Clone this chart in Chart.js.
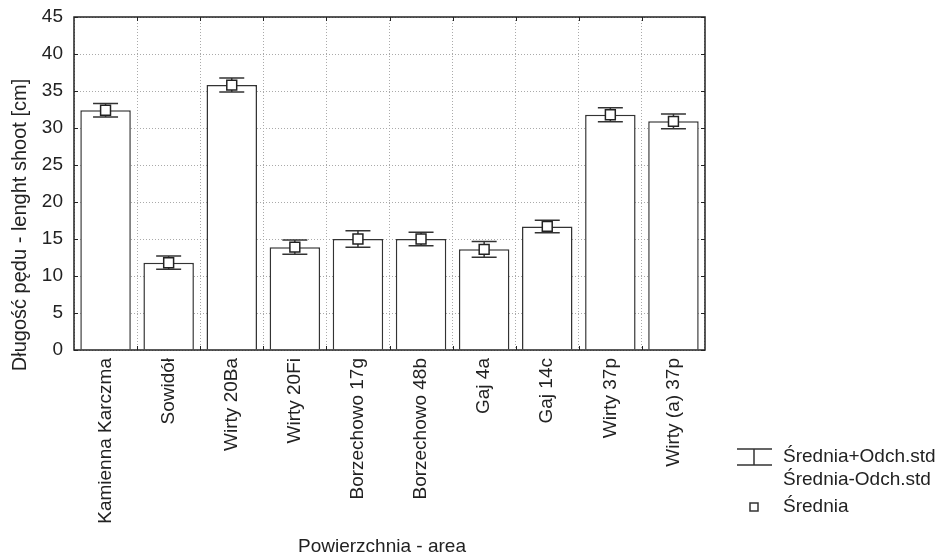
<!DOCTYPE html>
<html>
<head>
<meta charset="utf-8">
<script src="https://cdn.jsdelivr.net/npm/chart.js@4.4.1/dist/chart.umd.min.js"></script>
<style>
  html, body { margin: 0; padding: 0; background: #fff; }
  #wrap { width: 941px; height: 557px; position: relative; }
</style>
</head>
<body>
<div id="wrap"><canvas id="bar-chart"></canvas></div>
<script>
const categories = ['Kamienna Karczma', 'Sowidół', 'Wirty 20Ba', 'Wirty 20Fi', 'Borzechowo 17g',
  'Borzechowo 48b', 'Gaj 4a', 'Gaj 14c', 'Wirty 37p', 'Wirty (a) 37p'];
const means = [32.4, 11.8, 35.8, 13.9, 15.0, 15.0, 13.6, 16.7, 31.8, 30.9];
const stdDev = [0.9, 0.9, 0.95, 0.95, 1.1, 0.9, 1.05, 0.85, 0.95, 1.0];
const yTicks = [0, 5, 10, 15, 20, 25, 30, 35, 40, 45];

const ink = '#222';
const font = 'Liberation Sans, Arial, sans-serif';

// error bars, drawn right after the bars so the mean squares sit on top
const errorBars = {
  id: 'errorBars',
  afterDatasetDraw(chart, args) {
    if (args.index !== 0) return;
    const ctx = chart.ctx;
    const y = chart.scales.y;
    const meta = chart.getDatasetMeta(0);
    ctx.save();
    ctx.strokeStyle = '#333';
    ctx.lineWidth = 1.5;
    meta.data.forEach((bar, i) => {
      const top = y.getPixelForValue(means[i] + stdDev[i]);
      const bot = y.getPixelForValue(means[i] - stdDev[i]);
      const x = bar.x;
      ctx.beginPath();
      ctx.moveTo(x, top); ctx.lineTo(x, bot);
      ctx.moveTo(x - 12.5, top); ctx.lineTo(x + 12.5, top);
      ctx.moveTo(x - 12.5, bot); ctx.lineTo(x + 12.5, bot);
      ctx.stroke();
    });
    ctx.restore();
  }
};

// box frame, inner tick marks, axis titles and the legend on the right
const frame = {
  id: 'frame',
  afterDraw(chart) {
    const ctx = chart.ctx;
    const a = chart.chartArea;
    const y = chart.scales.y;
    ctx.save();
    ctx.strokeStyle = ink;
    ctx.lineWidth = 1.5;
    ctx.strokeRect(a.left, a.top, a.right - a.left, a.bottom - a.top);
    ctx.lineWidth = 1;
    ctx.beginPath();
    yTicks.forEach(v => {
      const py = Math.round(y.getPixelForValue(v)) + 0.5;
      ctx.moveTo(a.left, py); ctx.lineTo(a.left + 4, py);
      ctx.moveTo(a.right, py); ctx.lineTo(a.right - 4, py);
    });
    const step = (a.right - a.left) / categories.length;
    for (let i = 1; i < categories.length; i++) {
      const px = Math.round(a.left + i * step) + 0.5;
      ctx.moveTo(px, a.top); ctx.lineTo(px, a.top + 4);
      ctx.moveTo(px, a.bottom); ctx.lineTo(px, a.bottom - 4);
    }
    ctx.stroke();

    // axis titles
    ctx.fillStyle = ink;
    ctx.textBaseline = 'middle';
    ctx.textAlign = 'center';
    ctx.font = '19px ' + font;
    ctx.fillText('Powierzchnia - area', 382, 547);
    ctx.save();
    ctx.translate(20, 225);
    ctx.rotate(-Math.PI / 2);
    ctx.font = '20px ' + font;
    ctx.fillText('Długość pędu - lenght shoot [cm]', 0, 0);
    ctx.restore();

    // legend
    ctx.strokeStyle = '#333';
    ctx.lineWidth = 1.5;
    ctx.beginPath();
    ctx.moveTo(737, 449); ctx.lineTo(772, 449);
    ctx.moveTo(737, 465); ctx.lineTo(772, 465);
    ctx.moveTo(754, 449); ctx.lineTo(754, 465);
    ctx.stroke();
    ctx.fillStyle = '#fff';
    ctx.fillRect(750, 503, 8, 8);
    ctx.strokeRect(750, 503, 8, 8);
    ctx.fillStyle = ink;
    ctx.font = '19px ' + font;
    ctx.textAlign = 'left';
    ctx.fillText('Średnia+Odch.std', 783, 457);
    ctx.fillText('Średnia-Odch.std', 783, 480);
    ctx.fillText('Średnia', 783, 507);
    ctx.restore();
  }
};

const config = {
  type: 'bar',
  data: {
    labels: categories,
    datasets: [{
      label: 'Średnia',
      data: means,
      backgroundColor: '#fff',
      borderColor: '#333',
      borderWidth: 1.5,
      barPercentage: 0.8,
      categoryPercentage: 1.0,
      order: 2,
    }, {
      type: 'line',
      label: 'Średnia',
      data: means,
      showLine: false,
      pointStyle: 'rect',
      pointRadius: 7,
      pointBackgroundColor: '#fff',
      pointBorderColor: '#222',
      pointBorderWidth: 1.5,
      order: 1,
    }]
  },
  plugins: [errorBars, frame],
  options: {
    responsive: false,
    animation: false,
    layout: { padding: { top: 17, right: 236, left: 0, bottom: 0 } },
    plugins: {
      legend: { display: false },
      tooltip: { enabled: false },
    },
    scales: {
      x: {
        grid: { offset: true, color: '#aaa', lineWidth: 1, drawTicks: false },
        border: { display: false, dash: [1, 2] },
        ticks: {
          color: ink, font: { family: font, size: 19 },
          minRotation: 90, maxRotation: 90, padding: 8, autoSkip: false,
        },
        afterFit(scale) { scale.height = 207; },
      },
      y: {
        min: 0, max: 45,
        grid: { color: '#aaa', lineWidth: 1, drawTicks: false },
        border: { display: false, dash: [1, 2] },
        ticks: {
          stepSize: 5, color: ink, font: { family: font, size: 19 }, padding: 11,
        },
        afterFit(scale) {
          scale.width = 74;
          scale.paddingTop = 0;
          scale.paddingBottom = 0;
        },
      }
    }
  }
};

const canvas = document.getElementById('bar-chart');
canvas.width = 941;
canvas.height = 557;
const chart = new Chart(canvas.getContext('2d'), config);
</script>
</body>
</html>
